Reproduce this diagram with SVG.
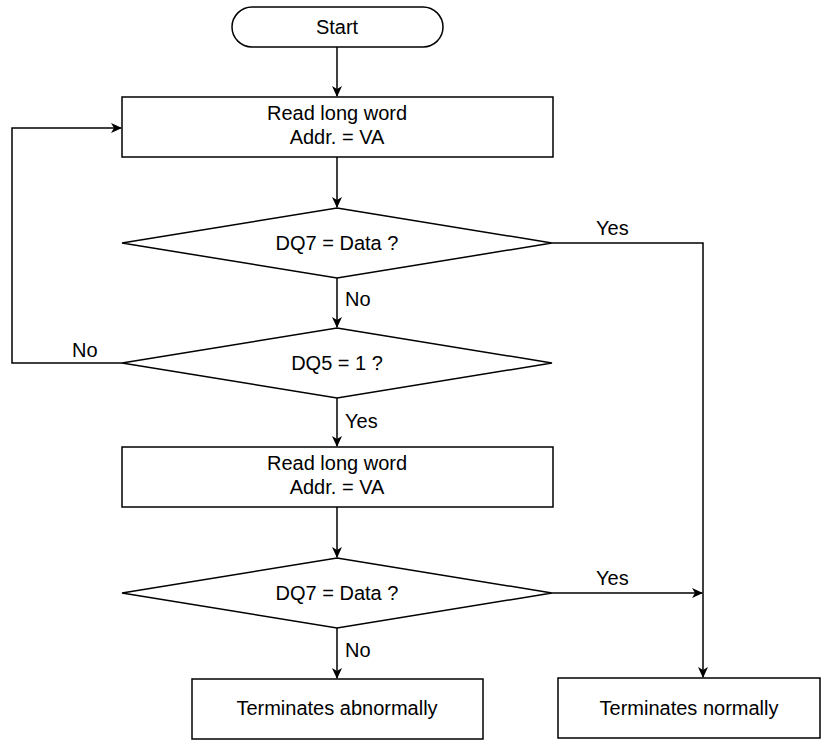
<svg xmlns="http://www.w3.org/2000/svg" width="839" height="741" viewBox="0 0 839 741">
<defs>
<marker id="arr" markerWidth="11" markerHeight="11" refX="10" refY="5.5" orient="auto" markerUnits="userSpaceOnUse">
<path d="M0,0.5 L11,5.5 L0,10.5 L3,5.5 z" fill="#000"/>
</marker>
<style>
.s{fill:#fff;stroke:#000;stroke-width:1.5}
.c{fill:none;stroke:#000;stroke-width:1.5}
.t{font-family:"Liberation Sans",Arial,sans-serif;font-size:20px;fill:#000}
.m{text-anchor:middle}
</style>
</defs>
<rect width="839" height="741" fill="#fff"/>
<g id="connectors">
<path class="c" d="M337,47 V96" marker-end="url(#arr)"/>
<path class="c" d="M337,157 V207" marker-end="url(#arr)"/>
<path class="c" d="M337,278 V327" marker-end="url(#arr)"/>
<path class="c" d="M337,398 V446" marker-end="url(#arr)"/>
<path class="c" d="M337,507 V557" marker-end="url(#arr)"/>
<path class="c" d="M337,628 V678" marker-end="url(#arr)"/>
<path class="c" d="M122,363 H12 V128 H121" marker-end="url(#arr)"/>
<path class="c" d="M552,243 H703 V677" marker-end="url(#arr)"/>
<path class="c" d="M552,593 H702" marker-end="url(#arr)"/>
<text class="t" x="345" y="306">No</text>
<text class="t" x="345" y="428">Yes</text>
<text class="t" x="345" y="657">No</text>
<text class="t" x="72" y="357">No</text>
<text class="t" x="596" y="235">Yes</text>
<text class="t" x="596" y="585">Yes</text>
</g>
<g id="start">
<rect class="s" x="232" y="7" width="211" height="40" rx="20" ry="20"/>
<text class="t m" x="337" y="34">Start</text>
</g>
<g id="read1">
<rect class="s" x="122" y="97" width="431" height="60"/>
<text class="t m" x="337" y="120">Read long word</text>
<text class="t m" x="337" y="144">Addr. = VA</text>
</g>
<g id="dq7a">
<polygon class="s" points="337,208 552,243 337,278 122,243"/>
<text class="t m" x="337" y="250">DQ7 = Data ?</text>
</g>
<g id="dq5">
<polygon class="s" points="337,328 552,363 337,398 122,363"/>
<text class="t m" x="337" y="370">DQ5 = 1 ?</text>
</g>
<g id="read2">
<rect class="s" x="122" y="447" width="431" height="60"/>
<text class="t m" x="337" y="470">Read long word</text>
<text class="t m" x="337" y="494">Addr. = VA</text>
</g>
<g id="dq7b">
<polygon class="s" points="337,558 552,593 337,628 122,593"/>
<text class="t m" x="337" y="600">DQ7 = Data ?</text>
</g>
<g id="abnormal">
<rect class="s" x="192" y="679" width="291" height="60"/>
<text class="t m" x="337" y="715">Terminates abnormally</text>
</g>
<g id="normal">
<rect class="s" x="558" y="678" width="262" height="60"/>
<text class="t m" x="689" y="715">Terminates normally</text>
</g>
</svg>
